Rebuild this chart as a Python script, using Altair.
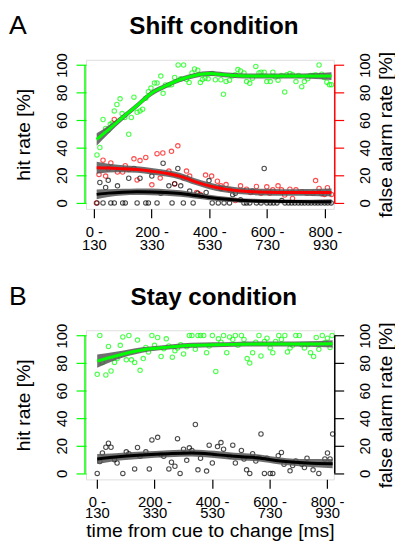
import altair as alt
import pandas as pd

FONT = "Liberation Sans"
GREEN = "#00ff00"
RED = "#ff0000"
BLACK = "#000000"

# ---------------- Panel A: Shift condition ----------------
a_hit_t = [11,21,32,41,49,57,64,71,80,91,98,107,121,130,139,150,160,169,180,189,198,210,219,232,240,248,260,269,280,292,301,311,321,330,340,349,360,369,376,385,396,410,421,440,449,458,470,479,490,499,508,520,529,540,549,561,572,579,590,599,611,620,629,638,650,661,668,679,688,700,709,720,729,741,750,759,768,780,789,798,807,816,823]
a_hit = [34.8,40.2,60.5,54,52.6,57,58,66.7,71.4,75.5,64.8,62,49.8,62,76.7,65.7,66.7,68,76,80.7,83.3,87,87,92,79.5,85.5,85.5,85.7,91,100,90,100,89.5,87.4,94.3,97.1,96.2,87.4,89.5,90.5,90,93.8,89.3,89.3,78.8,88.1,89,92,92.9,96.7,95.7,94.3,88,86.7,90.5,99,94.3,94.8,94.8,88,88,94.8,91.4,89,92.4,80.5,92.9,93.8,92.9,88,92.4,84.3,88,90,92.4,92.4,92.9,100,93.3,91,87.6,85.7,85.7]

a_fa_t = [9,18,32,41,50,59,71,82,100,109,121,139,150,160,180,201,219,230,239,260,269,280,291,310,321,332,356,369,387,408,428,440,458,470,490,508,529,542,563,579,599,609,620,638,650,661,679,688,700,720,738,759,768,780,789,799,809,823]
a_fa = [0,20.7,31,19.5,24.8,29,60.5,22.4,22.4,27,24.3,32,16.7,30.7,33,13.1,35.7,18,36.2,23.1,37.4,13.8,41.4,18,23.1,19.5,7.6,6.2,20.2,19.5,15.7,12.4,13.3,9.5,1.7,12.4,10,7.6,11.9,7.1,11.7,7.1,9.5,12.4,9.5,5.7,10,3.3,9.5,8.1,7.1,7.1,16.2,10.5,6.7,6.2,11,6.2]

a_blk_t = [11,21,32,41,50,59,71,82,100,109,121,139,150,160,180,189,201,219,232,240,260,271,280,291,301,310,332,344,360,372,389,399,410,431,440,451,470,481,490,508,520,529,540,549,563,579,590,599,611,622,634,651,662,674,685,696,708,719,730,742,753,765,776,787,799,810,822]
a_blk = [0,14.8,0,11.2,16.4,0,0,12.4,0,0,17.9,25,0,17.9,0,0,19.5,0,7.1,28.8,12.4,0,14,25,12.4,0,8.6,0,7.1,5.2,7.6,16.2,0,0,10.5,0,0,6,7,2.4,0,0,0,8.6,0,0,25,0,0,0,0,1.7,0,0,0,0,0,0,0,0,0,0,0,0,0,0,0]

# smoothed fits and half-widths of the grey bands
a_fit_t = [10,50,100,150,200,250,300,350,400,450,500,550,600,650,700,750,823]
a_hit_fit = [46,53,62,70.7,79.5,85,89.5,92.4,93.8,93,92.3,92,92,92,92,92,92]
a_hit_se = [4.5,3,2.2,2,2,1.8,1.8,1.8,1.8,1.8,1.8,1.8,1.8,1.8,1.8,2,2.8]
a_fa_fit = [25.5,25.3,24.8,24.2,23,21.5,19.3,15.5,12.4,10.2,8.8,8.1,7.8,7.6,7.6,7.6,7.6]
a_fa_se = [4.4,3.2,2.6,2.4,2.4,2.4,2.4,2.4,2.4,2.4,2.4,2.4,2.4,2.4,2.4,2.5,2.8]
a_blk_fit = [6.2,7.1,7.8,8.1,8,7.6,6.8,5.4,4,2.8,2,1.5,1.2,1.1,1,0.9,0.8]
a_blk_se = [3.6,2.8,2.4,2.4,2.4,2.4,2.4,2.2,2,1.8,1.6,1.5,1.4,1.4,1.4,1.5,1.8]

# ---------------- Panel B: Stay condition ----------------
b_hit_t = [1,10,19,31,40,49,61,70,81,90,102,111,120,131,141,150,161,170,179,191,200,211,223,232,241,250,262,271,280,291,301,312,321,330,342,351,360,371,381,390,401,413,422,431,440,451,461,472,481,490,502,511,522,531,541,552,563,570,582,591,602,611,621,632,641,653,662,671,680,691,703,712,721,733,742,753,762,771,783,792,801,810,817]
b_hit = [71.9,100,80.5,71.4,92.1,74.3,80.5,83.3,92.9,99,82.4,100,82.4,80.5,96.7,74.8,83.3,91.4,88.1,100,92.9,98.6,84.8,90.5,97.6,92.4,84.3,89,91,93.3,86.7,91.9,100,100,90,100,100,100,87.6,92.4,100,74,97.6,95.2,100,87.6,99,97.1,100,92.9,100,97.1,83.3,80,87.6,95.2,100,85.2,95.7,98.1,91,87.6,95.7,100,97.1,100,88.1,91,92.9,100,100,93.3,91,93.3,87.6,84.8,98.6,90,100,94.8,98.1,91.4,100]

b_blk_t = [1,10,19,31,40,49,61,70,90,102,111,131,141,150,170,182,191,211,223,232,250,259,271,280,289,301,312,321,330,342,351,360,381,390,401,419,431,440,461,472,481,502,511,520,531,541,552,563,570,582,591,602,611,630,641,650,671,680,691,712,721,730,751,771,792,801,810,819]
b_blk = [0,8.6,14.8,19,21.9,19,10,7.6,0,15.7,14.3,3.3,18.8,12.4,15.7,3.3,24.3,26.2,13.8,12.4,3.3,8.1,5.2,25.2,0,17.6,9.5,18.6,16.7,35.5,2.6,11,1.7,20.5,7.6,19.5,22.4,17.6,12.4,20.5,7.6,16.7,10.5,2.6,0,14.3,9,11.4,28.6,0,11,0,0,12.9,15.2,6.7,1.9,5.7,9,6.7,4.3,11,2.6,0,10.5,14.8,10.5,28.6]

b_fit_t = [1,65,157,248,328,408,477,557,637,729,819]
b_hit_fit = [81.4,85.2,89.5,91.6,92.9,93.3,93.6,93.8,93.8,93.8,94]
b_hit_se = [4.8,3,2,1.8,1.8,1.8,1.8,1.8,1.8,2,2.6]
b_blk_fit = [10.5,11.9,13.3,14.3,14.8,13.8,12.4,11.4,9,7.6,7.1]
b_blk_se = [3.6,2.8,2.6,2.6,2.6,2.6,2.6,2.6,2.6,2.8,3.4]

x_ticks = [0, 200, 400, 600, 800]
y_ticks = [0, 20, 40, 60, 80, 100]

W, H = 251, 151
Y_DOMAIN = [-4.3, 103.8]

cscale = alt.Scale(domain=["hit", "fa", "blk"], range=[GREEN, RED, BLACK])


def pts_frame(series):
    rows = []
    for name, ts, ys in series:
        for t, y in zip(ts, ys):
            rows.append({"t": t, "y": y, "s": name})
    return pd.DataFrame(rows)


def fit_frame(series):
    rows = []
    for name, ts, fs, ss in series:
        for t, f, se in zip(ts, fs, ss):
            rows.append({"t": t, "fit": f, "se": se, "s": name})
    return pd.DataFrame(rows)


def make_panel(title, letter, pts, fits, right_color, xdomain, xtitle):
    pdf = pts_frame(pts)
    fdf = fit_frame(fits)

    yscale = alt.Scale(domain=Y_DOMAIN, nice=False, zero=False)
    xscale = alt.Scale(domain=xdomain, nice=False, zero=False)

    x_axis_kw = dict(
        values=x_ticks, grid=False, domain=False, tickSize=9, tickWidth=1.2,
        tickColor=BLACK, labelFontSize=15,
        labelExpr="[datum.value + ' -', '' + (datum.value + 130)]",
        labelOverlap=False, labelBound=False, labelAlign="center",
    )
    if xtitle:
        x_axis = alt.Axis(title=xtitle, titleFontSize=19.5, titlePadding=1,
                          titleFontWeight="normal", labelLineHeight=12,
                          labelPadding=6, **x_axis_kw)
    else:
        x_axis = alt.Axis(title=None, labelLineHeight=13, labelPadding=7, **x_axis_kw)

    left_axis = alt.Axis(
        orient="left", values=y_ticks, title="hit rate [%]", grid=False,
        domain=False, tickColor=GREEN, tickSize=10, tickWidth=1.2,
        labelAngle=270, labelAlign="center", labelBaseline="bottom",
        labelFontSize=15, labelPadding=7, titleFontSize=19.5, titlePadding=21,
        titleFontWeight="normal",
    )
    right_axis = alt.Axis(
        orient="right", values=y_ticks, title="false alarm rate [%]", grid=False,
        domain=False, tickColor=right_color, tickSize=10, tickWidth=1.2,
        labelAngle=270, labelAlign="center", labelBaseline="top",
        labelFontSize=15, labelPadding=14, titleFontSize=19.5, titlePadding=4,
        titleAngle=270, titleBaseline="top", titleFontWeight="normal",
    )

    X = alt.X("t:Q", scale=xscale, axis=x_axis)
    col = alt.Color("s:N", scale=cscale, legend=None)

    points = alt.Chart(pdf).mark_point(
        shape="circle", filled=False, size=20, strokeWidth=1.1
    ).encode(x=X, y=alt.Y("y:Q", scale=yscale, axis=left_axis), color=col)

    band = alt.Chart(fdf).transform_calculate(
        lo="datum.fit - datum.se", hi="datum.fit + datum.se"
    ).mark_area(interpolate="monotone", color="#555555", opacity=0.85).encode(
        x=X, y=alt.Y("lo:Q", scale=yscale, axis=left_axis), y2="hi:Q", detail="s:N"
    )

    line = alt.Chart(fdf).mark_line(interpolate="monotone", strokeWidth=3).encode(
        x=X, y=alt.Y("fit:Q", scale=yscale, axis=left_axis), color=col, detail="s:N"
    )

    rule_df = pd.DataFrame({"y": [0], "y2": [100]})
    left_rule = alt.Chart(rule_df).mark_rule(color=GREEN, strokeWidth=1.5).encode(
        x=alt.value(-1), y=alt.Y("y:Q", scale=yscale, axis=left_axis), y2="y2:Q"
    )
    right_rule = alt.Chart(rule_df).mark_rule(color=right_color, strokeWidth=1.5).encode(
        x=alt.value(W + 1), y=alt.Y("y:Q", scale=yscale, axis=left_axis), y2="y2:Q"
    )

    label_df = pd.DataFrame({"l": [letter], "title": [title]})
    letter_text = alt.Chart(label_df).mark_text(
        fontSize=27, align="left", baseline="alphabetic", font=FONT, color=BLACK
    ).encode(text="l:N", x=alt.value(-78), y=alt.value(-26))
    title_text = alt.Chart(label_df).mark_text(
        fontSize=24.5, fontWeight="bold", align="center", baseline="alphabetic",
        font=FONT, color=BLACK
    ).encode(text="title:N", x=alt.value(W / 2 + 4), y=alt.value(-26))

    dummy = alt.Chart(pdf).mark_point(opacity=0).encode(
        x=X, y=alt.Y("y:Q", scale=yscale, axis=right_axis)
    )

    left = alt.layer(points, band, line, left_rule, right_rule, letter_text, title_text)
    return alt.layer(left, dummy).resolve_scale(y="independent").properties(
        width=W, height=H,
    )


panel_a = make_panel(
    "Shift condition", "A",
    [("hit", a_hit_t, a_hit), ("fa", a_fa_t, a_fa), ("blk", a_blk_t, a_blk)],
    [("blk", a_fit_t, a_blk_fit, a_blk_se), ("fa", a_fit_t, a_fa_fit, a_fa_se),
     ("hit", a_fit_t, a_hit_fit, a_hit_se)],
    RED, [-27, 831], None,
)
panel_b = make_panel(
    "Stay condition", "B",
    [("hit", b_hit_t, b_hit), ("blk", b_blk_t, b_blk)],
    [("blk", b_fit_t, b_blk_fit, b_blk_se), ("hit", b_fit_t, b_hit_fit, b_hit_se)],
    BLACK, [-38, 823], "time from cue to change [ms]",
)

chart = alt.vconcat(panel_a, panel_b, spacing=29).configure_view(
    stroke=BLACK, strokeWidth=1.5
).configure_axis(
    labelFont=FONT, titleFont=FONT, labelColor=BLACK, titleColor=BLACK,
    titleFontWeight="normal",
).configure(padding={"left": 0, "top": 0, "right": 0, "bottom": 0}, background="white")

chart.save("out.html", embed_options={"renderer": "svg", "actions": False})
